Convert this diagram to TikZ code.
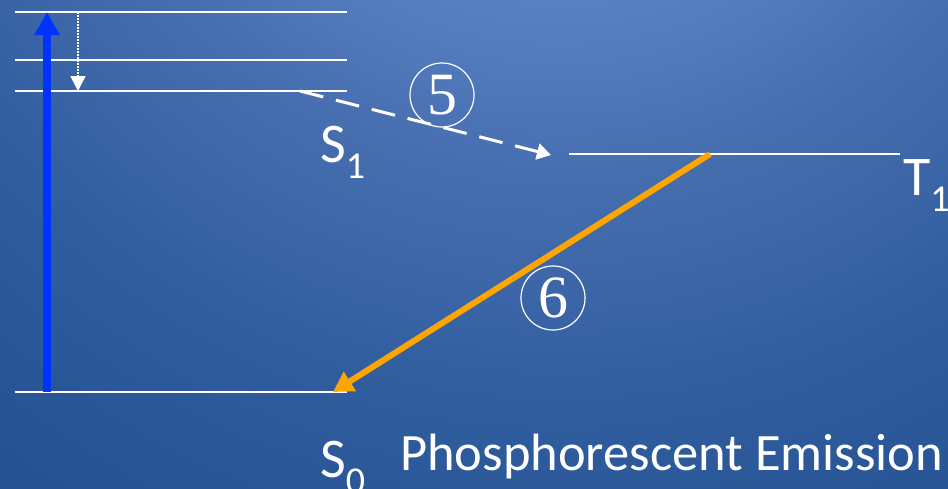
\documentclass[tikz,border=0pt]{standalone}
\usepackage{fontspec}
\setmainfont{Carlito}
\newfontfamily\circfont{Liberation Serif}
\usetikzlibrary{arrows.meta}
\definecolor{bgA}{HTML}{5A83C5}
\definecolor{bgB}{HTML}{466EAF}
\definecolor{bgC}{HTML}{2F5C9D}
\definecolor{bgD}{HTML}{245092}
\pgfdeclareradialshading{bgshade}{\pgfpoint{0bp}{0bp}}{color(0bp)=(bgA); color(7.5bp)=(bgA); color(12.5bp)=(bgB); color(18.5bp)=(bgC); color(25bp)=(bgD); color(50bp)=(bgD)}
\definecolor{excblue}{HTML}{0033FF}
\definecolor{phosorange}{HTML}{FFA500}
\tikzset{
  level/.style={draw=white, line width=2pt},
  lbl/.style={text=white, inner sep=0pt, anchor=base west, font=\fontsize{56}{56}\selectfont},
  circnum/.style={draw=white, line width=1.2pt, circle, minimum size=64pt, inner sep=0pt, text=white, font=\circfont\fontsize{60}{60}\selectfont},
  excite/.style={draw=excblue, line width=7.5pt, -{Triangle[length=23pt,width=24pt]}},
  relax/.style={draw=white, line width=1.5pt, dash pattern=on 1.5pt off 1.5pt, -{Triangle[length=15pt,width=15pt]}},
  isc/.style={draw=white, line width=3pt, dash pattern=on 24pt off 13pt, -{Triangle[length=14pt,width=16pt]}},
  phos/.style={draw=phosorange, line width=6pt, -{Triangle[length=20pt,width=22pt]}}
}
\newcommand{\subtxt}[1]{\raisebox{-16pt}{\fontsize{38}{38}\selectfont #1}}
\begin{document}
\begin{tikzpicture}[x=1pt,y=-1pt]
\useasboundingbox (0,0) rectangle (948,488);
\begin{scope}
\clip (0,0) rectangle (948,488);
\shade[shading=bgshade] (560,-320) circle (1000);
\end{scope}
% level coordinates
\coordinate (v2L) at (15,12);  \coordinate (v2R) at (347,12);
\coordinate (v1L) at (15,60);  \coordinate (v1R) at (347,60);
\coordinate (s1L) at (15,91);  \coordinate (s1R) at (347,91);
\coordinate (s0L) at (15,392); \coordinate (s0R) at (347,392);
\coordinate (t1L) at (569,154); \coordinate (t1R) at (900,154);
\draw[level] (v2L) -- (v2R);
\draw[level] (v1L) -- (v1R);
\draw[level] (s1L) -- (s1R);
\draw[level] (s0L) -- (s0R);
\draw[level] (t1L) -- (t1R);
% arrow endpoints
\coordinate (exB) at (47,392); \coordinate (exT) at (47,12);
\coordinate (vrT) at (78,12);  \coordinate (vrB) at (78,91);
\coordinate (iscA) at (300,91); \coordinate (iscB) at (551,155);
\coordinate (phA) at (710,154); \coordinate (phB) at (333,392);
\draw[excite] (exB) -- (exT);
\draw[relax] (vrT) -- (vrB);
\draw[isc] (iscA) -- (iscB);
\draw[phos] (phA) -- (phB);
% circled numbers
\node[circnum] (n5) at (442,95) {5};
\node[circnum] (n6) at (553,298) {6};
% labels
\node[lbl] (S1) at (320,162) {S\subtxt{1}};
\node[lbl] (T1) at (903,195) {T\subtxt{1}};
\node[lbl] (S0) at (320,477) {S\subtxt{0}};
\node[lbl, font=\fontsize{52.5}{52.5}\selectfont] (pe) at (400,470) {Phosphorescent Emission};
\end{tikzpicture}
\end{document}
